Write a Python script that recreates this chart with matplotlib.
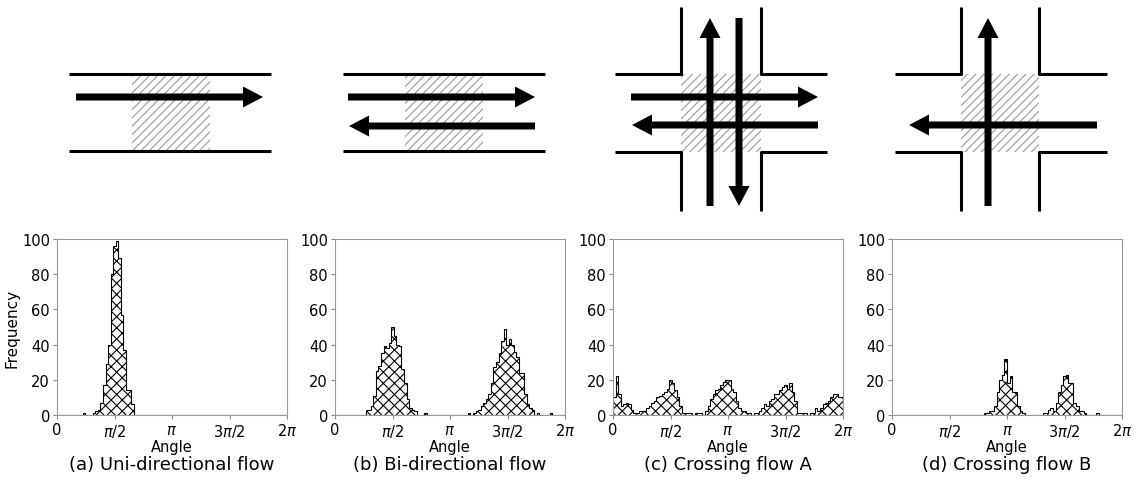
import numpy as np
import matplotlib.pyplot as plt
from matplotlib.patches import Rectangle, FancyArrow

# histogram counts, 90 bins of 4 degrees over [0, 2pi]
uni_flow = [
    0, 0, 0, 0, 0, 0, 0, 0, 0, 0,
    1, 0, 0, 0, 1, 2, 3, 7, 17, 29,
    40, 80, 96, 99, 89, 57, 37, 14, 14, 6,
    0, 0, 0, 0, 0, 0, 0, 0, 0, 0,
    0, 0, 0, 0, 0, 0, 0, 0, 0, 0,
    0, 0, 0, 0, 0, 0, 0, 0, 0, 0,
    0, 0, 0, 0, 0, 0, 0, 0, 0, 0,
    0, 0, 0, 0, 0, 0, 0, 0, 0, 0,
    0, 0, 0, 0, 0, 0, 0, 0, 0, 0,
]
bi_flow = [
    0, 0, 0, 0, 0, 0, 0, 0, 0, 0,
    0, 0, 3, 3, 5, 11, 25, 28, 35, 39,
    38, 41, 50, 45, 40, 39, 26, 18, 9, 4,
    3, 2, 0, 0, 0, 1, 0, 0, 0, 0,
    0, 0, 0, 0, 0, 0, 0, 0, 0, 0,
    0, 0, 1, 0, 1, 2, 3, 5, 7, 9,
    12, 18, 27, 30, 35, 42, 49, 40, 43, 40,
    36, 33, 24, 24, 12, 6, 4, 3, 0, 1,
    0, 0, 0, 0, 1, 0, 0, 0, 0, 0,
]
cross_a = [
    10, 22, 12, 5, 6, 7, 6, 3, 1, 1,
    2, 2, 2, 4, 5, 7, 8, 10, 11, 12,
    13, 15, 20, 18, 14, 10, 5, 1, 1, 1,
    1, 0, 1, 1, 1, 0, 2, 5, 9, 12,
    14, 15, 17, 19, 20, 20, 15, 13, 8, 4,
    2, 2, 1, 1, 0, 1, 1, 2, 4, 6,
    5, 8, 9, 12, 12, 14, 16, 17, 15, 18,
    13, 8, 1, 1, 1, 1, 0, 1, 1, 4,
    2, 4, 6, 7, 8, 10, 12, 12, 10, 10,
]
cross_b = [
    0, 0, 0, 0, 0, 0, 0, 0, 0, 0,
    0, 0, 0, 0, 0, 0, 0, 0, 0, 0,
    0, 0, 0, 0, 0, 0, 0, 0, 0, 0,
    0, 0, 0, 0, 0, 0, 1, 1, 2, 2,
    5, 13, 20, 23, 32, 18, 22, 13, 13, 5,
    2, 1, 0, 0, 0, 0, 0, 0, 0, 1,
    1, 3, 4, 2, 7, 13, 17, 22, 23, 18,
    18, 7, 5, 2, 2, 1, 0, 0, 0, 0,
    1, 0, 0, 0, 0, 0, 0, 0, 0, 0,
]
series = [uni_flow, bi_flow, cross_a, cross_b]
captions = ['(a) Uni-directional flow', '(b) Bi-directional flow',
            '(c) Crossing flow A', '(d) Crossing flow B']
xtick_labels = ['0', r'$\pi/2$', r'$\pi$', r'$3\pi/2$', r'$2\pi$']

W, H = 1137, 481
fig = plt.figure(figsize=(W / 100, H / 100), dpi=100)

# ---------------- schematic diagrams (pixel coordinates) ----------------
dax = fig.add_axes([0, 0, 1, 1])
dax.set_xlim(0, W)
dax.set_ylim(H, 0)
dax.axis('off')

plt.rcParams['hatch.linewidth'] = 0.8
WALL = dict(color='black', lw=2.2, solid_capstyle='butt')

def hatch_box(x0, x1, y0, y1):
    dax.add_patch(Rectangle((x0, y0), x1 - x0, y1 - y0, facecolor='none',
                            edgecolor='#999999', lw=0, hatch='////', zorder=1))

def arrow(x0, y0, x1, y1):
    dax.add_patch(FancyArrow(x0, y0, x1 - x0, y1 - y0, width=7, head_width=21,
                             head_length=20, length_includes_head=True,
                             color='black', lw=0, zorder=3))

def corridor(xl, xr, hx0, hx1):
    dax.plot([xl, xr], [75, 75], **WALL)
    dax.plot([xl, xr], [152, 152], **WALL)
    hatch_box(hx0, hx1, 75, 152)

def crossing(xl, xi0, xi1, xr):
    dax.plot([xl, xi0, xi0], [75, 75, 8], **WALL)
    dax.plot([xi1, xi1, xr], [8, 75, 75], **WALL)
    dax.plot([xl, xi0, xi0], [153, 153, 212], **WALL)
    dax.plot([xi1, xi1, xr], [212, 153, 153], **WALL)
    hatch_box(xi0, xi1, 75, 153)

# (a)
corridor(69, 271, 132, 210)
arrow(76, 98, 263, 98)
# (b)
corridor(343, 545, 405, 483)
arrow(348, 98, 535, 98)
arrow(535, 127, 349, 127)
# (c)
crossing(615, 681, 761, 827)
arrow(631, 98, 818, 98)
arrow(818, 126, 632, 126)
arrow(710, 207, 710, 19)
arrow(739, 19, 739, 207)
# (d)
crossing(895, 961, 1039, 1107)
arrow(988, 207, 988, 19)
arrow(1097, 126, 909, 126)

# ---------------- histograms ----------------
edges = np.linspace(0, 2 * np.pi, 91)
lefts = [57, 335, 613, 892]
for i, (counts, cap) in enumerate(zip(series, captions)):
    ax = fig.add_axes([lefts[i] / W, (H - 416) / H, 230 / W, 176 / H])
    ax.stairs(counts, edges, fill=True, facecolor='white', edgecolor='black',
              hatch='xxx', lw=0.8)
    ax.set_xlim(0, 2 * np.pi)
    ax.set_ylim(0, 100)
    ax.set_xticks(np.arange(5) * np.pi / 2)
    ax.set_xticklabels(xtick_labels)
    ax.set_yticks(range(0, 101, 20))
    ax.tick_params(labelsize=10.5, length=3, color='#888888', pad=2)
    for sp in ax.spines.values():
        sp.set_color('#999999')
    ax.set_xlabel('Angle', fontsize=10.5, labelpad=0)
    if i == 0:
        ax.set_ylabel('Frequency', fontsize=11, labelpad=2)
    ax.text(0.5, -0.28, cap, transform=ax.transAxes, ha='center', va='center',
            fontsize=13)

plt.savefig('out.png', dpi=100)
